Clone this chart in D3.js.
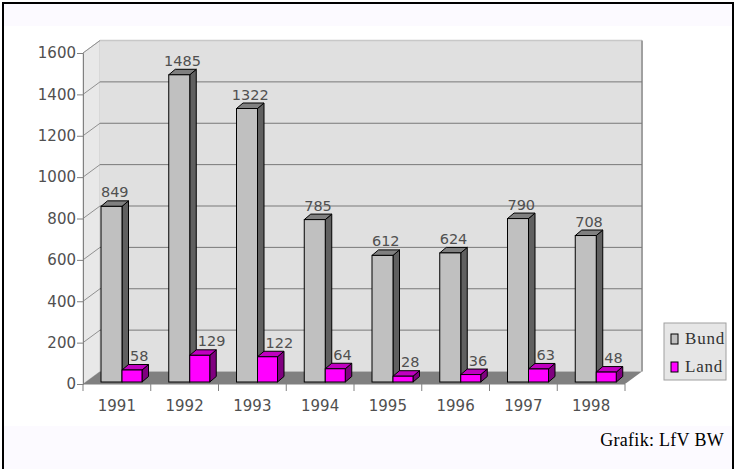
<!DOCTYPE html>
<html>
<head>
<meta charset="utf-8">
<script src="https://cdn.jsdelivr.net/npm/d3@7"></script>
<style>
  body { margin: 0; background: #fff; }
  svg { display: block; }
</style>
</head>
<body>
<svg id="canvas"></svg>
<script>
// 3D column chart, Bund vs Land per year

let years = ['1991', '1992', '1993', '1994', '1995', '1996', '1997', '1998']
let bund = [849, 1485, 1322, 785, 612, 624, 790, 708]
let land = [58, 129, 122, 64, 28, 36, 63, 48]
let seriesNames = ['Bund', 'Land']
let yTicks = [0, 200, 400, 600, 800, 1000, 1200, 1400, 1600]

let width = 735
let height = 469

// plot box (front plane)
let plotLeft = 83
let plotRight = 625
let plotTop = 53
let plotBottom = 384
let depthX = 17, depthY = -12.5      // wall depth
let barDX = 6.5, barDY = -5.5        // bar depth
let labelFont = 'DejaVu Sans'
let labelColor = '#505050'

let svg = d3.select('#canvas').attr('width', width).attr('height', height)

let xScale = d3.scaleBand().domain(years).range([plotLeft, plotRight])
let yScale = d3.scaleLinear().domain([0, 1600]).range([plotBottom, plotTop])

// background bands + frame
svg.append('rect').attr('x', 4).attr('y', 4).attr('width', 730).attr('height', 22).attr('fill', '#fcfaff')
svg.append('rect').attr('x', 4).attr('y', 426).attr('width', 730).attr('height', 44).attr('fill', '#fcfaff')
svg.append('path')
  .attr('d', 'M3,470 V3 H733 V470')
  .attr('fill', 'none').attr('stroke', '#000').attr('stroke-width', 2)

// walls
let wall = svg.append('g')
wall.append('path')   // left wall
  .attr('d', `M${plotLeft},${plotBottom} L${plotLeft},${plotTop} L${plotLeft + depthX},${plotTop + depthY} L${plotLeft + depthX},${plotBottom + depthY} Z`)
  .attr('fill', '#e8e8e8').attr('stroke', '#c8c8c8')
wall.append('rect')   // back wall
  .attr('x', plotLeft + depthX).attr('y', plotTop + depthY)
  .attr('width', plotRight - plotLeft).attr('height', plotBottom - plotTop)
  .attr('fill', '#e0e0e0')
wall.append('line')
  .attr('x1', plotLeft + depthX).attr('x2', plotRight + depthX)
  .attr('y1', plotTop + depthY).attr('y2', plotTop + depthY)
  .attr('stroke', '#c8c8c8').attr('stroke-width', 1.5)
wall.append('line')
  .attr('x1', plotRight + depthX).attr('x2', plotRight + depthX)
  .attr('y1', plotTop + depthY).attr('y2', plotBottom + depthY)
  .attr('stroke', '#a0a0a0').attr('stroke-width', 2)

// gridlines on back wall and left wall
yTicks.slice(1, -1).forEach(t => {
  wall.append('line')
    .attr('x1', plotLeft + depthX).attr('x2', plotRight + depthX)
    .attr('y1', yScale(t) + depthY).attr('y2', yScale(t) + depthY)
    .attr('stroke', '#787878')
  wall.append('line')
    .attr('x1', plotLeft).attr('x2', plotLeft + depthX)
    .attr('y1', yScale(t)).attr('y2', yScale(t) + depthY)
    .attr('stroke', '#909090')
})
wall.append('line')
  .attr('x1', plotLeft).attr('x2', plotLeft + depthX)
  .attr('y1', plotTop).attr('y2', plotTop + depthY)
  .attr('stroke', '#909090')

// floor
wall.append('path')
  .attr('d', `M${plotLeft},${plotBottom} L${plotRight},${plotBottom} L${plotRight + depthX},${plotBottom + depthY} L${plotLeft + depthX},${plotBottom + depthY} Z`)
  .attr('fill', '#808080')

// axes
let yAxis = d3.axisLeft(yScale).tickValues(yTicks).tickSize(6).tickFormat(d3.format('d'))
let gy = svg.append('g').attr('transform', `translate(${plotLeft},0)`).call(yAxis)
gy.select('.domain').attr('stroke', '#808080')
gy.selectAll('.tick line').attr('stroke', '#808080')
gy.selectAll('.tick text')
  .attr('font-family', labelFont).attr('font-size', 15).attr('fill', labelColor).attr('x', -7)

let xAxis = d3.axisBottom(xScale).tickSize(0)
let gx = svg.append('g').attr('transform', `translate(0,${plotBottom})`).call(xAxis)
gx.select('.domain').attr('stroke', '#808080').attr('d', `M${plotLeft},0H${plotRight}`)
gx.selectAll('.tick text')
  .attr('font-family', labelFont).attr('font-size', 15).attr('fill', labelColor)
  .attr('y', 27).attr('dy', 0)
svg.append('g').selectAll('line')
  .data(d3.range(years.length + 1))
  .enter().append('line')
  .attr('x1', i => plotLeft + i * xScale.bandwidth())
  .attr('x2', i => plotLeft + i * xScale.bandwidth())
  .attr('y1', plotBottom).attr('y2', plotBottom + 7)
  .attr('stroke', '#808080')

// bars
let series = [
  { values: bund, off: 18, w: 21, front: '#c0c0c0', side: '#606060', top: '#808080', labelAt: 'middle' },
  { values: land, off: 39, w: 20, front: '#ff00ff', side: '#800080', top: '#c000c0', labelAt: 'start' }
]
let base = yScale(0) - 2

let drawBar = (g, x, w, yTop, s) => {
  g.append('path')
    .attr('d', `M${x + w},${base} L${x + w + barDX},${base + barDY} L${x + w + barDX},${yTop + barDY} L${x + w},${yTop} Z`)
    .attr('fill', s.side).attr('stroke', '#000')
  g.append('path')
    .attr('d', `M${x},${yTop} L${x + barDX},${yTop + barDY} L${x + w + barDX},${yTop + barDY} L${x + w},${yTop} Z`)
    .attr('fill', s.top).attr('stroke', '#000')
  g.append('rect')
    .attr('x', x).attr('y', yTop).attr('width', w).attr('height', base - yTop)
    .attr('fill', s.front).attr('stroke', '#000')
}

let bars = svg.append('g')
years.forEach((yr, i) => {
  series.forEach(s => {
    let v = s.values[i]
    let x = xScale(yr) + s.off
    let yTop = base - (yScale(0) - yScale(v))
    drawBar(bars, x, s.w, yTop, s)
    bars.append('text')
      .attr('x', s.labelAt == 'middle' ? x + (s.w + barDX) / 2 : x + 8)
      .attr('y', yTop - 9)
      .attr('text-anchor', s.labelAt)
      .attr('font-family', labelFont).attr('font-size', 14.5).attr('fill', labelColor)
      .text(v)
  })
})

// legend
let legend = svg.append('g').attr('transform', 'translate(664,323)')
legend.append('rect').attr('width', 62).attr('height', 57)
  .attr('fill', '#e6e6e6').attr('stroke', '#a0a0a0')
seriesNames.forEach((name, i) => {
  legend.append('rect')
    .attr('x', 7).attr('y', 11 + i * 28).attr('width', 7).attr('height', 10)
    .attr('fill', series[i].front).attr('stroke', '#000')
  legend.append('text')
    .attr('x', 21).attr('y', 21 + i * 28)
    .attr('font-family', 'Liberation Serif').attr('font-size', 17).attr('fill', '#333')
    .attr('letter-spacing', 0.8)
    .text(name)
})

// source note
svg.append('text')
  .attr('x', 724).attr('y', 446)
  .attr('text-anchor', 'end')
  .attr('font-family', 'Liberation Serif').attr('font-size', 18).attr('fill', '#000')
  .attr('letter-spacing', 0.3)
  .text('Grafik: LfV BW')
</script>
</body>
</html>
